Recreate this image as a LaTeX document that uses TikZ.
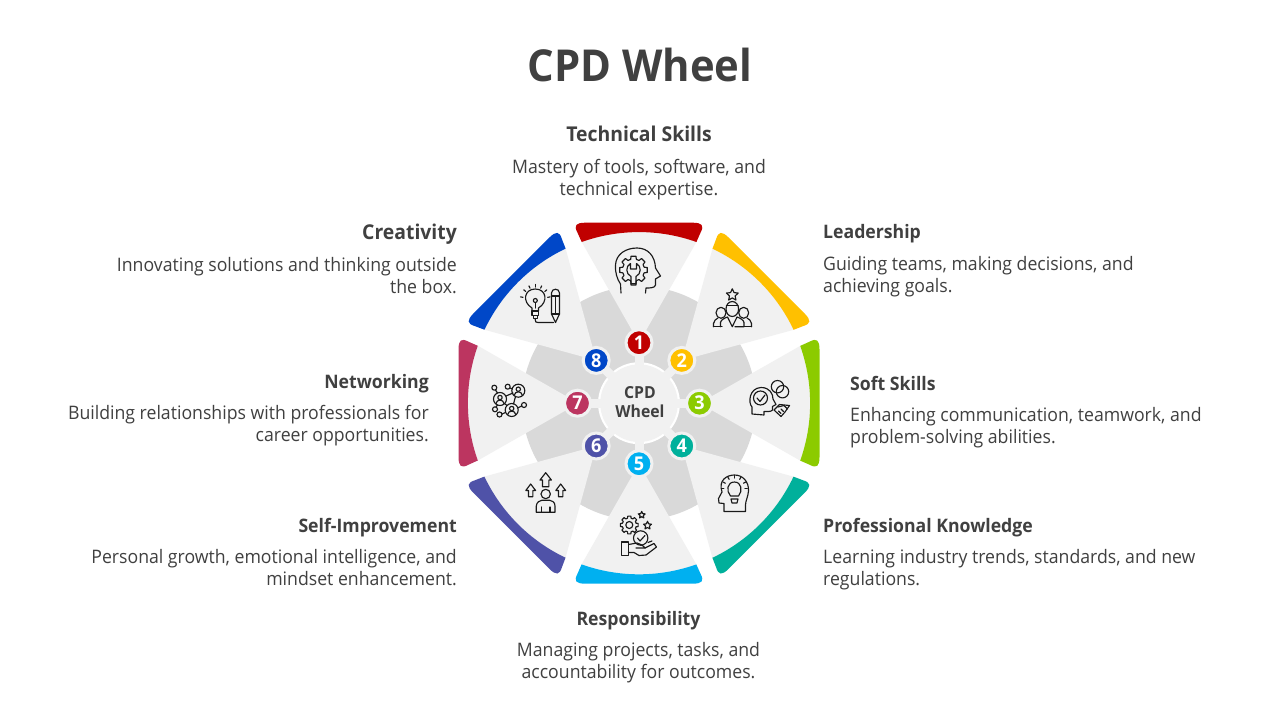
\documentclass[tikz,border=0pt]{standalone}
\usepackage{fontspec}
\usetikzlibrary{calc}
\setmainfont[FakeStretch=0.95]{Open Sans}
\definecolor{ink}{HTML}{404040}
\definecolor{iconink}{HTML}{1A1A1A}
\definecolor{lightsec}{HTML}{F1F1F1}
\definecolor{graysec}{HTML}{D9D9D9}
\definecolor{cA}{HTML}{C00000}
\definecolor{cB}{HTML}{FFC000}
\definecolor{cC}{HTML}{8CCB00}
\definecolor{cD}{HTML}{00B09B}
\definecolor{cE}{HTML}{00B0F0}
\definecolor{cF}{HTML}{4F52A8}
\definecolor{cG}{HTML}{BC3560}
\definecolor{cH}{HTML}{0047C8}
\tikzset{
  head/.style={inner sep=0pt,text=ink,font=\fontsize{18.6}{24}\selectfont\bfseries},
  bighead/.style={inner sep=0pt,text=ink,font=\fontsize{20.4}{24}\selectfont\bfseries},
  body/.style={inner sep=0pt,text=ink,font=\fontsize{18.6}{22}\selectfont},
  badge/.style={circle,minimum size=26pt,inner sep=0pt,draw=lightsec,line width=3pt,text=white,font=\fontsize{19}{19}\selectfont\bfseries},
  icon/.style={draw=iconink,line width=1.15pt,line join=round,line cap=round,fill=none}
}
\newcommand\wedgepart[2]{%
  \begin{scope}[shift={(639,403.2)},x=1pt,y=1pt,rotate=#1]
    \fill[lightsec] (0,60.5) -- (-57.3,161.2) arc[start angle=109.6,end angle=70.4,radius=171] -- cycle;
    \fill[#2] (-57.3,161.2) arc[start angle=109.6,end angle=70.4,radius=171]
      -- (61.5,170.5) .. controls (65.5,178) and (63,180.3) .. (54,180.5)
      -- (-54,180.5) .. controls (-63,180.3) and (-65.5,178) .. (-61.5,170.5) -- cycle;
  \end{scope}}
\newcommand\spokepart[1]{%
  \begin{scope}[shift={(639,403.2)},x=1pt,y=1pt,rotate=#1]
    \fill[lightsec] (-4.5,30) rectangle (4.5,60);
  \end{scope}}
\newcommand\geartoothed[4]{%
  \begin{scope}[shift={(#1,#2)}]
    \draw[icon] ({-10}:#3) \foreach \k in {0,45,...,315}{ -- ({\k-10}:#3) -- ({\k+10}:#3) -- ({\k+15}:#4) -- ({\k+30}:#4)} -- cycle;
  \end{scope}}
\newcommand\staroutline[3]{%
  \begin{scope}[shift={(#1,#2)}]
    \draw[icon] (-90:#3) -- (-54:0.48*#3) -- (-18:#3) -- (18:0.48*#3) -- (54:#3) -- (90:0.48*#3) -- (126:#3) -- (162:0.48*#3) -- (198:#3) -- (234:0.48*#3) -- cycle;
  \end{scope}}
\begin{document}
\begin{tikzpicture}[x=1pt,y=-1pt]
\useasboundingbox[fill=white] (0,0) rectangle (1280,720);
% wheel
\fill[graysec] (639,403.2) circle[radius=117];
\wedgepart{0}{cA}
\wedgepart{-45}{cB}
\wedgepart{-90}{cC}
\wedgepart{-135}{cD}
\wedgepart{-180}{cE}
\wedgepart{-225}{cF}
\wedgepart{-270}{cG}
\wedgepart{-315}{cH}
\fill[white] (639,403.2) circle[radius=41];
\fill[lightsec] (639,403.2) circle[radius=38.8];
\foreach \a in {0,45,...,315}{\spokepart{\a}}
% centre and badges
\node[inner sep=0pt,align=center,text=ink,font=\fontsize{16.6}{19}\selectfont\bfseries] (centre) at (640,402) {CPD\\Wheel};
\node[badge,fill=cA] (b1) at (639,342.7) {1};
\node[badge,fill=cB] (b2) at (681.8,360.4) {2};
\node[badge,fill=cC] (b3) at (699.5,403.2) {3};
\node[badge,fill=cD] (b4) at (681.8,446) {4};
\node[badge,fill=cE] (b5) at (639,463.7) {5};
\node[badge,fill=cF] (b6) at (596.2,446) {6};
\node[badge,fill=cG] (b7) at (577.5,403.2) {7};
\node[badge,fill=cH] (b8) at (596.2,360.4) {8};
% title
\node[inner sep=0pt,text=ink,font=\fontsize{44}{50}\selectfont\bfseries] (title) at (640,65) {CPD Wheel};
% labels
\node[bighead,anchor=base] (h1) at (639,141.5) {Technical Skills};
\node[body,align=center,anchor=north] (d1) at (639,159.5) {Mastery of tools, software, and\\technical expertise.};
\node[bighead,anchor=base east] (h8) at (457,239.5) {Creativity};
\node[body,align=right,anchor=north east] (d8) at (457,257.5) {Innovating solutions and thinking outside\\the box.};
\node[head,anchor=base west] (h2) at (823,238) {Leadership};
\node[body,align=left,anchor=north west] (d2) at (823,256.5) {Guiding teams, making decisions, and\\achieving goals.};
\node[head,anchor=base west] (h3) at (850,390) {Soft Skills};
\node[body,align=left,anchor=north west] (d3) at (850,407) {Enhancing communication, teamwork, and\\problem-solving abilities.};
\node[head,anchor=base east] (h7) at (429,388) {Networking};
\node[body,align=right,anchor=north east] (d7) at (429,405) {Building relationships with professionals for\\career opportunities.};
\node[head,anchor=base west] (h4) at (823,532) {Professional Knowledge};
\node[body,align=left,anchor=north west] (d4) at (823,549) {Learning industry trends, standards, and new\\regulations.};
\node[head,anchor=base east] (h6) at (457,532) {Self-Improvement};
\node[body,align=right,anchor=north east] (d6) at (457,549) {Personal growth, emotional intelligence, and\\mindset enhancement.};
\node[head,anchor=base] (h5) at (638.5,625) {Responsibility};
\node[body,align=center,anchor=north] (d5) at (638.5,642) {Managing projects, tasks, and\\accountability for outcomes.};
% icon 1: head with gear and wrench
\draw[icon] (621,293) -- (620.5,284) .. controls (617,279) and (615,272) .. (615.5,265) .. controls (616,254) and (626,248) .. (637,248) .. controls (648,248) and (655,256) .. (655.5,268) -- (660.5,276) -- (655.5,279) -- (655.5,285) .. controls (655,288) and (650,288) .. (646,288) -- (645.5,293);
\geartoothed{633.5}{270}{14}{11}
\draw[icon] (630.5,263.5) .. controls (625.5,266) and (625.5,274) .. (631,276.5) -- (631,285) -- (636,285) -- (636,276.5) .. controls (641.5,274) and (641.5,266) .. (636.5,263.5) -- (636.5,269) -- (630.5,269) -- cycle;
% icon 2: team with star
\staroutline{732.3}{295}{6.2}
\draw[icon] (732.3,309) ellipse[x radius=6.3,y radius=7.5];
\draw[icon] (721,312.8) ellipse[x radius=5,y radius=5.5];
\draw[icon] (743.7,312.8) ellipse[x radius=5,y radius=5.5];
\draw[icon] (713.5,326.7) -- (713.5,323.5) .. controls (714,320.5) and (716,319) .. (718,318);
\draw[icon] (751.5,326.7) -- (751.5,323.5) .. controls (751,320.5) and (749,319) .. (747,318);
\draw[icon] (713.5,326.7) -- (722,326.7);
\draw[icon] (743,326.7) -- (751.5,326.7);
\draw[icon] (720.5,326.7) -- (720.5,322.5) .. controls (721,319.5) and (725,318) .. (727.5,317) -- (732.3,326.7) -- (737,317) .. controls (739.5,318) and (743.5,319.5) .. (744,322.5) -- (744,326.7) -- (735,326.7);
\draw[icon] (726.5,305.5) -- (738,305.5);
% icon 3: head with check, circles, handshake
\draw[icon] (752,414) -- (752,407) .. controls (748,403) and (749,388) .. (761,387.5) .. controls (770,387.5) and (773,394) .. (773,399) -- (776,404.5) -- (772.5,406.5) -- (772.5,410) .. controls (771,412) and (767,411.5) .. (764,411.5) -- (764,415) -- cycle;
\draw[icon] (760.5,398) circle[radius=7];
\draw[icon] (757,398) -- (760,401.5) -- (765,395);
\draw[icon] (777.5,386.7) circle[radius=6.2];
\draw[icon] (782.5,391.7) circle[radius=6.2];
\draw[icon] (774,410) -- (779.5,404.5) -- (789.5,405.5) -- (785,412) -- (781,416.5) -- cycle;
\draw[icon] (778,407) -- (784,405.5) -- (787.5,409);
\draw[icon] (778.5,411) -- (781,413.5);
\draw[icon] (781,409) -- (783.5,411.5);
% icon 4: head with bulb
\draw[icon] (724,511.5) -- (724,503.5) -- (719,503) -- (718.5,498.5) -- (722,492) .. controls (718,480) and (727,475) .. (734.5,475) .. controls (743,475) and (749,482) .. (748.5,491) .. controls (748,497) and (745.5,501) .. (745.5,505) -- (745.5,511.5) -- cycle;
\draw[icon] (730.5,496) .. controls (726,491) and (727,482) .. (734.5,482) .. controls (741.5,482) and (743,491) .. (738.5,496) -- cycle;
\draw[icon] (731,499) -- (738,499) -- (737,503) -- (732,503) -- cycle;
\foreach \a in {-150,-120,-90,-60,-30,0,180}{
  \draw[icon] ($(734.4,488.5)+(\a:10.5)$) -- ($(734.4,488.5)+(\a:13)$);
}
% icon 5: gear, stars, check and hand
\geartoothed{629.3}{525}{9}{7}
\draw[icon] (629.3,525) circle[radius=3.5];
\staroutline{641.7}{515}{3.6}
\staroutline{647.5}{525.5}{4.2}
\draw[icon] (640.7,538) circle[radius=7.2];
\draw[icon] (637.5,538) -- (640,541) -- (645,535.5);
\draw[icon] (621.5,542) rectangle (628.5,555.5);
\draw[icon] (628.5,544.5) -- (637,543) .. controls (640,544) and (644,546) .. (645,548) -- (636,548);
\draw[icon] (628.5,552.5) -- (634,552.5) -- (639,555.5) -- (646,555) -- (656.5,547) -- (654,543.5) -- (645,548);
\draw[icon] (648,542.5) -- (652,541);
% icon 6: person and arrows
\draw[icon] (545.7,494) circle[radius=4.7];
\draw[icon] (536.3,512.3) -- (536.3,506) .. controls (536.5,502) and (540,500.5) .. (542,500.2) -- (549.5,500.2) .. controls (552,500.5) and (555,502) .. (555,506) -- (555,512.3) -- cycle;
\draw[icon] (541.5,507) -- (541.5,512);
\draw[icon] (550,507) -- (550,512);
\draw[icon] (542.5,486.7) -- (542.5,480) -- (540,480) -- (545.7,472.7) -- (551.4,480) -- (548.9,480) -- (548.9,486.7) -- cycle;
\draw[icon] (528.5,496.7) -- (528.5,490.5) -- (525.8,490.5) -- (530.7,484) -- (535.6,490.5) -- (532.9,490.5) -- (532.9,496.7) -- cycle;
\draw[icon] (558.5,496.7) -- (558.5,490.5) -- (555.8,490.5) -- (560.7,484) -- (565.6,490.5) -- (562.9,490.5) -- (562.9,496.7) -- cycle;
% icon 7: network
\draw[icon] (500,399) circle[radius=6.5];
\draw[icon] (518.3,390.7) circle[radius=6.5];
\draw[icon] (511.7,410) circle[radius=6.5];
\draw[icon] (500,397.5) circle[radius=2.2];
\draw[icon] (518.3,389.2) circle[radius=2.2];
\draw[icon] (511.7,408.5) circle[radius=2.2];
\draw[icon] (496,403.5) .. controls (496.5,399) and (503.5,399) .. (504,403.5);
\draw[icon] (514.3,395.2) .. controls (514.8,390.7) and (521.8,390.7) .. (522.3,395.2);
\draw[icon] (507.7,414.5) .. controls (508.2,410) and (515.2,410) .. (515.7,414.5);
\draw[icon] (494.3,387.7) circle[radius=2.5];
\draw[icon] (507.7,386.7) circle[radius=2.5];
\draw[icon] (495,409.3) circle[radius=2.5];
\draw[icon] (499.5,414.5) circle[radius=2.5];
\draw[icon] (524,405) circle[radius=2.5];
\draw[icon] (495.5,390) -- (497.5,393);
\draw[icon] (510,388) -- (512.5,389);
\draw[icon] (506,396) -- (513,393);
\draw[icon] (515.5,396.5) -- (513.5,404);
\draw[icon] (504.5,403.5) -- (507,405.5);
\draw[icon] (496,407) -- (497.5,405);
\draw[icon] (502,414) -- (505.5,412.5);
\draw[icon] (517.5,408) -- (521.8,406);
% icon 8: bulb and pencil
\draw[icon] (532,311) -- (532,308) .. controls (522,302) and (524,289) .. (535.3,289) .. controls (546.5,289) and (548.5,302) .. (538.5,308) -- (538.5,311);
\draw[icon] (533.5,315.5) rectangle (537.5,318.5);
\draw[icon] (532,311) -- (538.5,311) -- (538.5,315.5) -- (532,315.5) -- cycle;
\draw[icon] (535.3,308) -- (535.3,303);
\draw[icon] (535.3,300.5) circle[radius=2];
\foreach \a in {-170,-140,-115,-90,-65,-40,-10}{
  \draw[icon] ($(535.3,299.5)+(\a:12.5)$) -- ($(535.3,299.5)+(\a:15)$);
}
\draw[icon] (535.3,318.5) -- (535.3,320) .. controls (535.3,322) and (536,322.5) .. (538,322.5) -- (553.5,322.5);
\draw[icon] (551.5,293) .. controls (551.5,288) and (559.5,288) .. (559.5,293) -- (559.5,314) -- (555.5,322.5) -- (551.5,314) -- cycle;
\draw[icon] (551.5,296) -- (559.5,296);
\draw[icon] (555.5,296) -- (555.5,314);
\draw[icon] (551.5,314) -- (559.5,314);
\end{tikzpicture}
\end{document}
